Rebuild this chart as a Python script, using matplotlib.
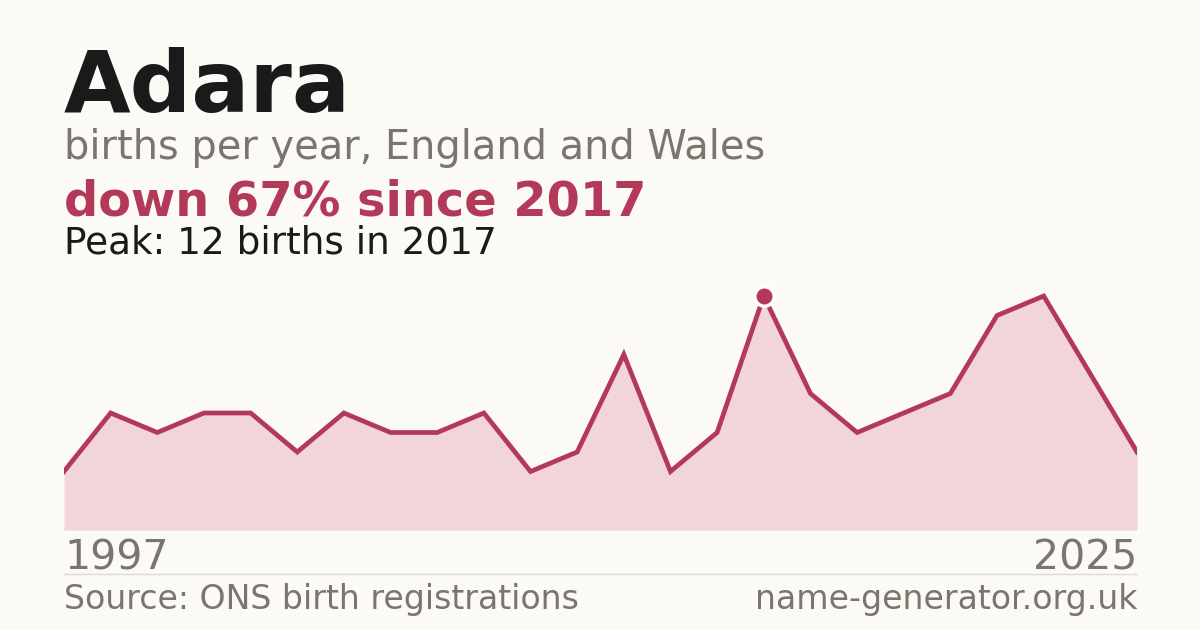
import numpy as np
import matplotlib.pyplot as plt

# births per year (one point per registered year shown)
name = 'Adara'
births = [3, 6, 5, 6, 6, 4, 6, 5, 5, 6, 3, 4, 9, 3, 5, 12, 7, 5, 6, 7, 11, 12, 8, 4]
first_year = '1997'
last_year = '2025'
peak_year = '2017'
peak_idx = 15

bg = '#fbfaf5'
red = '#b3395a'
grey = '#7a756e'

fig = plt.figure(figsize=(12, 6.3), dpi=100, facecolor=bg)

# axes placed in pixel terms: x 64..1137, y baseline at 530
W, H = 1200, 630
ax = fig.add_axes([64 / W, (H - 530) / H, (1137 - 64) / W, 253.5 / H])
ax.set_facecolor(bg)
x = np.arange(len(births))
ax.fill_between(x, births, 0, color='#f1d5db', lw=0)
ax.plot(x, births, color=red, lw=3.4, solid_joinstyle='miter')
ax.plot(x[peak_idx], births[peak_idx], 'o', ms=14, color=red,
        mec='white', mew=2.5, zorder=5)
ax.set_xlim(0, len(births) - 1)
ax.set_ylim(0, 13)
ax.axis('off')

# titles
fig.text(64 / W, 1 - 112 / H, name, fontsize=62, fontweight='bold',
         color='#1a1a1a', va='baseline')
fig.text(64 / W, 1 - 159 / H, 'births per year, England and Wales',
         fontsize=28.7, color=grey, va='baseline')
pct = round((1 - births[-1] / births[peak_idx]) * 100)
fig.text(64 / W, 1 - 215 / H, f'down {pct}% since {peak_year}',
         fontsize=34.5, fontweight='bold', color=red, va='baseline')
fig.text(64 / W, 1 - 253 / H, f'Peak: {births[peak_idx]} births in {peak_year}',
         fontsize=26.9, color='#1a1a1a', va='baseline')

# year labels
fig.text(64 / W, 1 - 570 / H, first_year, fontsize=29.5, color=grey, va='baseline')
fig.text(1137 / W, 1 - 570 / H, last_year, fontsize=29.5, color=grey,
         va='baseline', ha='right')

# separator
fig.add_artist(plt.Line2D([64 / W, 1137 / W], [1 - 574 / H, 1 - 574 / H],
                          color='#dddbd5', lw=1))

# footer
fig.text(64 / W, 1 - 609 / H, 'Source: ONS birth registrations',
         fontsize=23.9, color=grey, va='baseline')
fig.text(1137 / W, 1 - 609 / H, 'name-generator.org.uk',
         fontsize=23.9, color=grey, va='baseline', ha='right')

plt.savefig('out.png', dpi=100, facecolor=bg)
